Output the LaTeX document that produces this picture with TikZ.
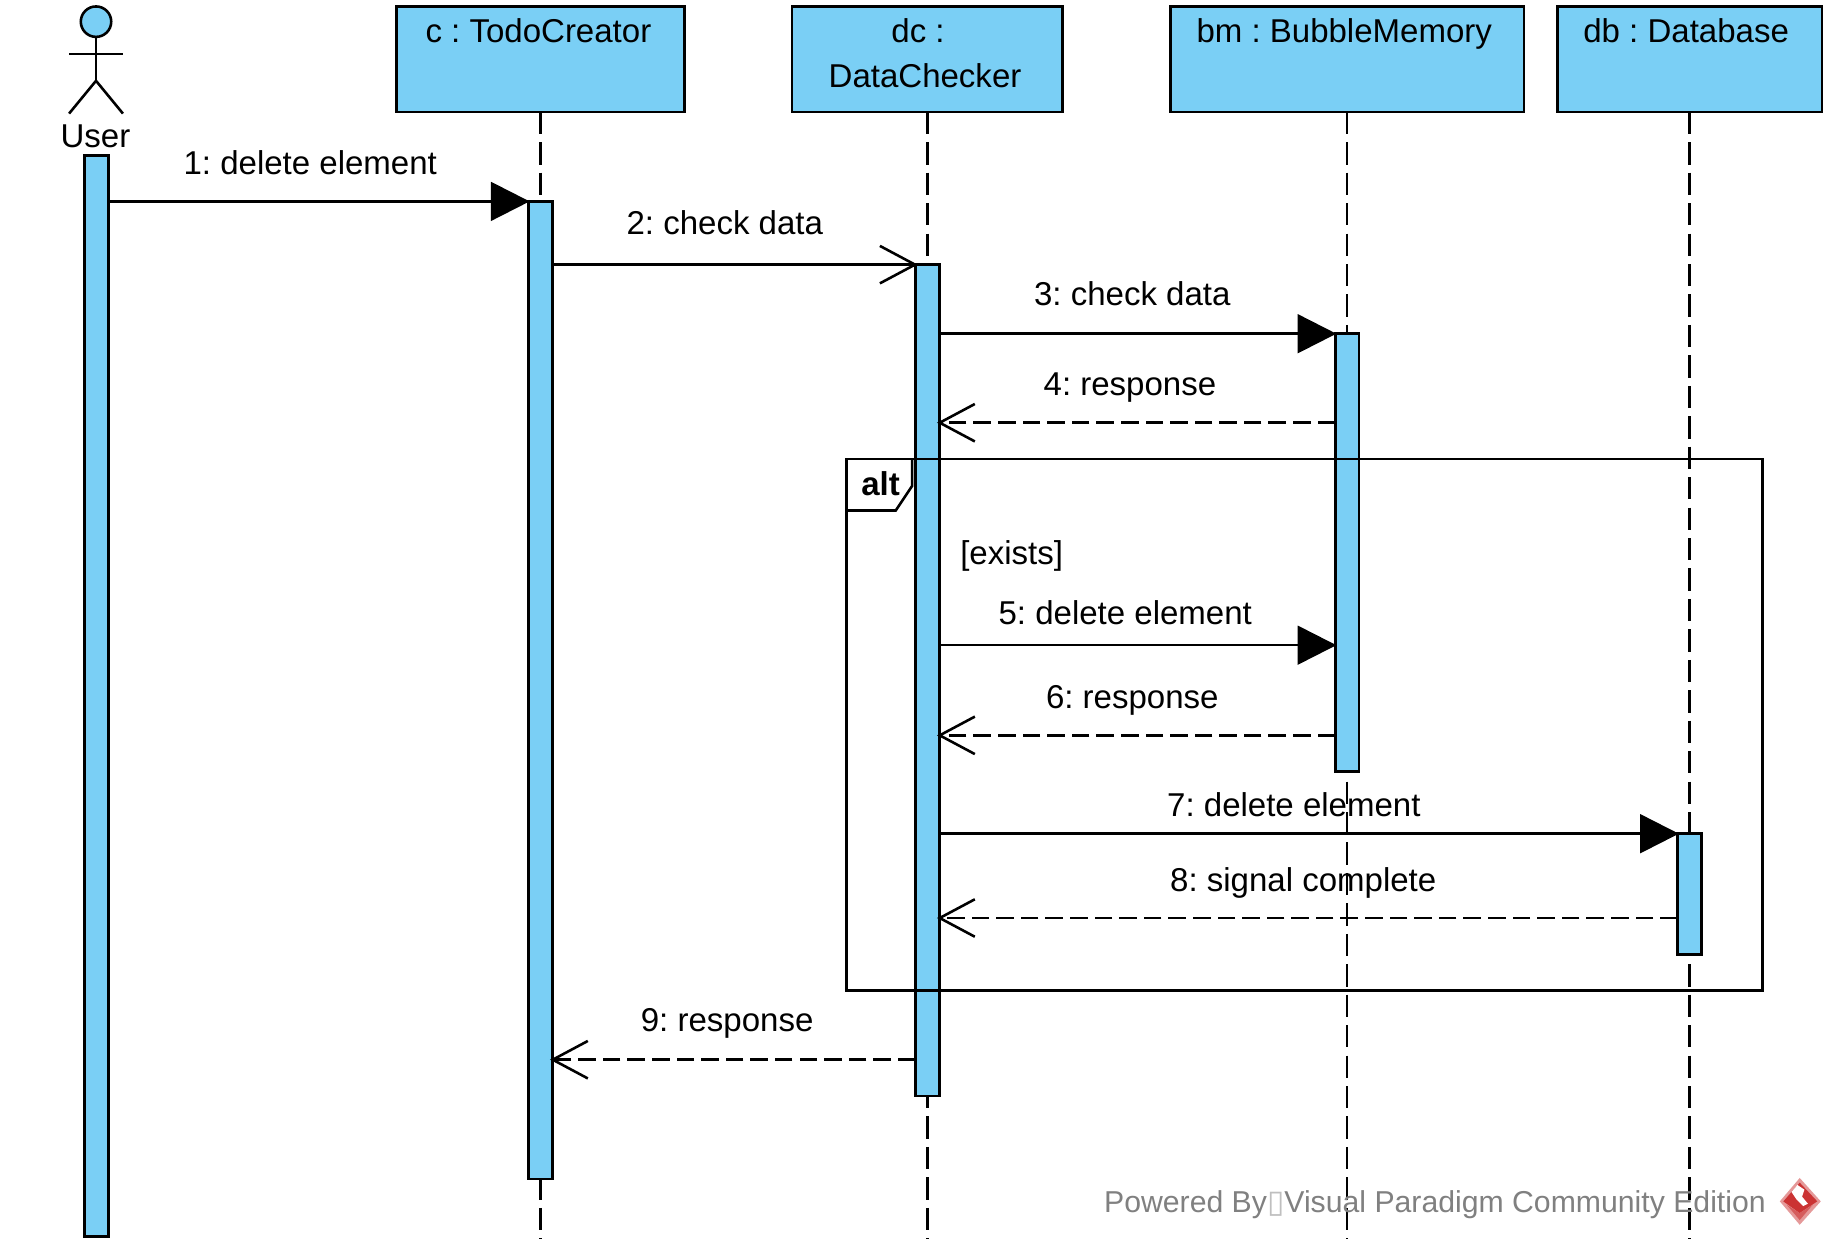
\documentclass[tikz,border=0pt]{standalone}
\usepackage{fontspec}
\setmainfont{Liberation Sans}
\newfontfamily\symfont{DejaVu Sans}
\usetikzlibrary{arrows.meta}
\definecolor{vpblue}{RGB}{122,207,245}
\definecolor{vpgray}{RGB}{128,128,128}
\definecolor{vpred}{RGB}{203,51,51}

\begin{document}
\frenchspacing
\begin{tikzpicture}[x=1pt,y=-1pt,line width=2.2pt,font=\fontsize{28.2}{34}\selectfont]
\tikzstyle{every node}+=[inner sep=0pt,outer sep=0pt]
\tikzstyle{headbox}=[draw=black,fill=vpblue,minimum height=90pt]
\tikzstyle{actbar}=[draw=black,fill=vpblue,minimum width=20.4pt,anchor=north]
\tikzstyle{txt}=[anchor=base]
\tikzstyle{lifeline}=[black,dash pattern=on 19pt off 7pt]
\tikzstyle{syncmsg}=[black,shorten >=-1pt,-{Triangle[length=33pt,width=33pt]}]
\tikzstyle{openmsg}=[black,shorten >=-2pt,-{Straight Barb[length=30pt,width=32pt]}]
\tikzstyle{replymsg}=[black,shorten >=-2pt,dash pattern=on 15pt off 6pt,-{Straight Barb[length=30pt,width=32pt]}]
\useasboundingbox (0,0) rectangle (1568,1068.4);
\node [headbox,minimum width=246pt] (c) at (461.5,50.5) {};
\node [headbox,minimum width=231pt] (dc) at (792,50.5) {};
\node [headbox,minimum width=302pt] (bm) at (1150.5,50.5) {};
\node [headbox,minimum width=226pt] (db) at (1443,50.5) {};
\node [txt] (cText) at (459.8,36) {c : TodoCreator};
\node [txt] (dcText) at (784,36) {dc :};
\node [txt] (dcTextTwo) at (790,74.4) {DataChecker};
\node [txt] (bmText) at (1148,36) {bm : BubbleMemory};
\node [txt] (dbText) at (1440,36) {db : Database};
\coordinate (cEnd) at (461.5,1058);
\coordinate (dcEnd) at (792,1058);
\coordinate (bmEnd) at (1150.5,1058);
\coordinate (dbEnd) at (1443,1058);
\draw [lifeline] (c.south) -- (cEnd);
\draw [lifeline] (dc.south) -- (dcEnd);
\draw [lifeline] (bm.south) -- (bmEnd);
\draw [lifeline] (db.south) -- (dbEnd);
\node [circle,draw=black,fill=vpblue,minimum size=26pt] (userHead) at (82,18.5) {};
\coordinate (userHip) at (82,69);
\coordinate (userArmL) at (59,46);
\coordinate (userArmR) at (105,46);
\coordinate (userFootL) at (59,97);
\coordinate (userFootR) at (105,97);
\draw [black] (userHead.south) -- (userHip);
\draw [black] (userArmL) -- (userArmR);
\draw [black] (userFootL) -- (userHip) -- (userFootR);
\node [txt] (userText) at (81.5,125.7) {User};
\node [actbar,minimum height=923pt] (barUser) at (82.5,133) {};
\node [actbar,minimum height=835pt] (barC) at (461.5,172) {};
\node [actbar,minimum height=710pt] (barDc) at (792,226) {};
\node [actbar,minimum height=374pt] (barBm) at (1150.5,285) {};
\node [actbar,minimum height=103pt] (barDb) at (1443,712) {};
\draw [syncmsg] (barUser.east |- barC.north west) -- (barC.north west);
\draw [openmsg] (barC.east |- barDc.north west) -- (barDc.north west);
\draw [syncmsg] (barDc.east |- barBm.north west) -- (barBm.north west);
\draw [replymsg] (barBm.west |- 0,361) -- (barDc.east |- 0,361);
\draw [syncmsg] (barDc.east |- 0,551) -- (barBm.west |- 0,551);
\draw [replymsg] (barBm.west |- 0,628) -- (barDc.east |- 0,628);
\draw [syncmsg] (barDc.east |- barDb.north west) -- (barDb.north west);
\draw [replymsg] (barDb.west |- 0,784) -- (barDc.east |- 0,784);
\draw [replymsg] (barDc.west |- 0,905) -- (barC.east |- 0,905);
\node [draw=black,minimum width=782pt,minimum height=454pt] (altFrame) at (1114,619) {};
\coordinate (altTagA) at (723,436);
\coordinate (altTagB) at (765,436);
\coordinate (altTagC) at (779,415);
\coordinate (altTagD) at (779,392);
\draw [black] (altTagA) -- (altTagB) -- (altTagC) -- (altTagD);
\node [txt,font=\fontsize{28.2}{34}\selectfont\bfseries] (altText) at (752,423) {alt};
\node [txt] (existsText) at (864,482) {[exists]};
\node [txt] (msgOne) at (265,149) {1: delete element};
\node [txt] (msgTwo) at (619,200) {2: check data};
\node [txt] (msgThree) at (967,261) {3: check data};
\node [txt] (msgFour) at (965,338) {4: response};
\node [txt] (msgFive) at (961,533.5) {5: delete element};
\node [txt] (msgSix) at (967,605) {6: response};
\node [txt] (msgSeven) at (1105,697.5) {7: delete element};
\node [txt] (msgEight) at (1113,761.5) {8: signal complete};
\node [txt] (msgNine) at (621,881) {9: response};
\node [text=vpgray,anchor=base east,font=\fontsize{25.8}{30}\selectfont] (poweredText) at (1508,1035.5) {Powered By{\symfont\color{black!25}\fontsize{27}{27}\selectfont\char"25AF}Visual Paradigm Community Edition};
\fill [vpred!50] (1537,1006) -- (1555,1026) -- (1537,1046) -- (1520,1026) -- cycle;
\fill [vpred] (1537,1010) -- (1552,1026) -- (1537,1036) -- (1523,1026) -- cycle;
\fill [vpred!80] (1526,1029) -- (1537,1036) -- (1548,1029) -- (1537,1042) -- cycle;
\fill [white] (1535,1012) -- (1541,1016) -- (1539,1022) -- (1544,1028) -- (1540,1030) -- (1534,1024) -- (1530,1018) -- cycle;
\end{tikzpicture}
\end{document}
